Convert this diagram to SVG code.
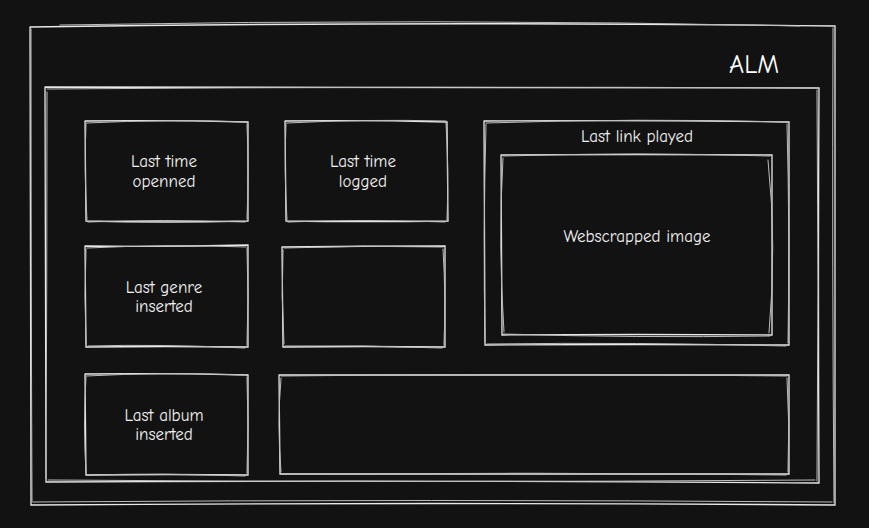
<svg xmlns="http://www.w3.org/2000/svg" width="869" height="528" viewBox="0 0 869 528">
<style>
.s{fill:none;stroke:#e8e8e8;stroke-width:1.3;stroke-linecap:round}
.s2{fill:none;stroke:#bdbdbd;stroke-width:1;stroke-linecap:round}
.t{font-family:"Comic Neue","Liberation Sans",sans-serif;font-size:17px;fill:#f2f2f2;text-anchor:middle}
.h{font-family:"Comic Neue","Liberation Sans",sans-serif;font-size:26px;fill:#ffffff;text-anchor:middle}
</style>
<rect width="869" height="528" fill="#121212"/>
<g id="outer-frame">
<path class="s" d="M30 27 Q430 21 835 26 Q836 260 835 505 Q430 502 31 505 Q30 260 30 27"/>
<path class="s2" d="M60 25 Q440 18 800 26 M833 28 Q832 270 834 503 M832 502 Q430 499 33 502 M32 502 Q31 270 31 29"/>
</g>
<g id="title">
<text class="h" x="754" y="73">ALM</text>
</g>
<g id="inner-frame">
<path class="s" d="M45 87 Q430 86 819 88 Q818 285 819 483 Q430 480 46 482 Q45 285 45 87"/>
<path class="s2" d="M47 89 Q430 86 816 88 M817 90 Q819 285 817 481 M815 480 Q430 483 48 480 M46 478 Q47 285 47 92"/>
</g>
<g id="box-last-time-openned">
<path class="s" d="M85 121 Q165 120 248 122 L248 221 Q165 223 86 221 L85 121"/>
<path class="s2" d="M86 123 Q170 119 246 122 M247 124 Q249 170 247 219 M245 222 Q160 219 88 222 M87 220 Q84 170 86 124"/>
<text class="t" x="164" y="167">Last time</text>
<text class="t" x="164" y="187">openned</text>
</g>
<g id="box-last-time-logged">
<path class="s" d="M285 121 Q365 120 447 122 L448 221 Q365 222 286 221 L285 121"/>
<path class="s2" d="M287 123 Q365 119 446 121 M446 123 Q449 170 447 220 M445 222 Q360 219 288 222 M287 220 Q284 170 286 123"/>
<text class="t" x="363" y="167">Last time</text>
<text class="t" x="363" y="187">logged</text>
</g>
<g id="box-last-link-played">
<path class="s" d="M484 121 Q637 120 789 122 L789 345 Q637 344 485 345 L484 121"/>
<path class="s2" d="M486 123 Q637 118 787 122 M787 124 Q790 235 788 343 M786 346 Q637 342 487 344 M485 342 Q483 235 486 124"/>
<text class="t" x="637" y="142">Last link played</text>
</g>
<g id="box-webscrapped-image">
<path class="s" d="M501 155 Q637 154 772 155 L772 335 Q637 334 502 335 L501 155"/>
<path class="s2" d="M503 156 Q637 152 770 156 M768 160 Q777 245 769 333 M770 336 Q637 338 503 334 M504 332 Q498 245 503 158"/>
<text class="t" x="637" y="242">Webscrapped image</text>
</g>
<g id="box-last-genre-inserted">
<path class="s" d="M85 246 Q165 247 248 245 L248 347 Q165 346 86 347 L85 246"/>
<path class="s2" d="M87 248 Q170 244 246 247 M247 248 Q249 296 247 345 M245 348 Q160 344 88 346 M86 344 Q84 296 86 249"/>
<text class="t" x="164" y="293">Last genre</text>
<text class="t" x="164" y="312">inserted</text>
</g>
<g id="box-empty-middle">
<path class="s" d="M282 247 Q363 246 445 246 L445 347 Q363 346 283 347 L282 247"/>
<path class="s2" d="M284 248 Q363 245 443 247 M443 249 Q446 296 444 345 M442 348 Q363 345 285 346 M284 344 Q281 296 283 250"/>
</g>
<g id="box-last-album-inserted">
<path class="s" d="M85 374 Q165 373 248 375 L248 475 Q165 474 86 475 L85 374"/>
<path class="s2" d="M86 376 Q160 372 246 375 M247 377 Q249 425 247 473 M245 476 Q160 473 88 475 M86 473 Q83 425 86 377"/>
<text class="t" x="164" y="421">Last album</text>
<text class="t" x="164" y="440">inserted</text>
</g>
<g id="box-empty-bottom">
<path class="s" d="M279 375 Q535 374 789 375 L789 474 Q535 473 280 474 L279 375"/>
<path class="s2" d="M281 376 Q535 373 787 376 M787 378 Q790 425 788 472 M786 475 Q535 472 282 474 M281 472 Q277 425 281 378"/>
</g>
</svg>
